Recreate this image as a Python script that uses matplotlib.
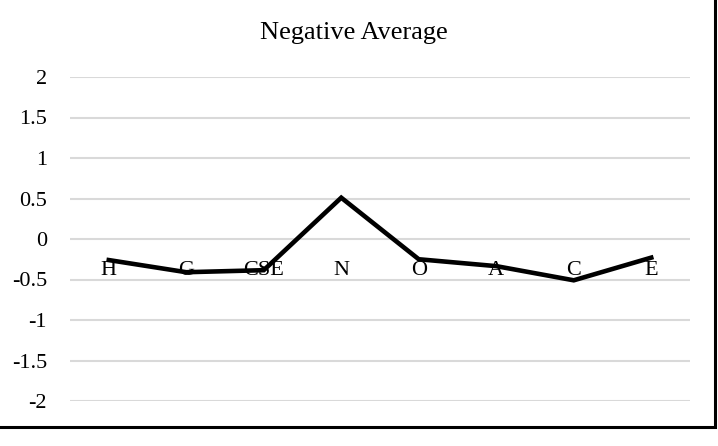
import numpy as np
import matplotlib.pyplot as plt
from matplotlib.patches import Rectangle

categories = ['H', 'G', 'CSE', 'N', 'O', 'A', 'C', 'E']
neg_avg = [-0.26, -0.41, -0.385, 0.51, -0.25, -0.335, -0.51, -0.23]
y_ticks = [2, 1.5, 1, 0.5, 0, -0.5, -1, -1.5, -2]

plt.rcParams['font.family'] = 'Liberation Serif'

fig = plt.figure(figsize=(7.18, 4.46), dpi=100)
ax = fig.add_axes([70 / 718, 1 - 401 / 446, 620 / 718, 324 / 446])

x = np.arange(len(categories))
ax.plot(x, neg_avg, color='black', linewidth=3.3, solid_joinstyle='miter', zorder=3)

ax.set_xlim(-0.5, len(categories) - 0.5)
ax.set_ylim(-2, 2)
ax.set_yticks(y_ticks)
ax.set_yticklabels([f'{v:g}' for v in y_ticks], fontsize=16)
ax.yaxis.grid(True, color='#d9d9d9', linewidth=1.5)
ax.set_axisbelow(True)
ax.tick_params(axis='y', length=0, pad=16.5)

# category labels sit on the zero line like Excel does
ax.spines['bottom'].set_position(('data', 0))
ax.spines['bottom'].set_visible(False)
for s in ['top', 'right', 'left']:
    ax.spines[s].set_visible(False)
ax.set_xticks(x)
ax.set_xticklabels(categories, fontsize=16)
ax.tick_params(axis='x', length=0, pad=15.5)

fig.text(354 / 718, 1 - 33 / 446, 'Negative Average',
         fontsize=19, ha='center', va='center')

# chart border (only right and bottom edges visible in the crop)
fig.patches.append(Rectangle((-0.1, 1 - 427 / 446), 715 / 718 + 0.1, 1.5,
                             transform=fig.transFigure, fill=False,
                             edgecolor='black', linewidth=2.2))

fig.savefig('out.png', dpi=100, facecolor='white')
